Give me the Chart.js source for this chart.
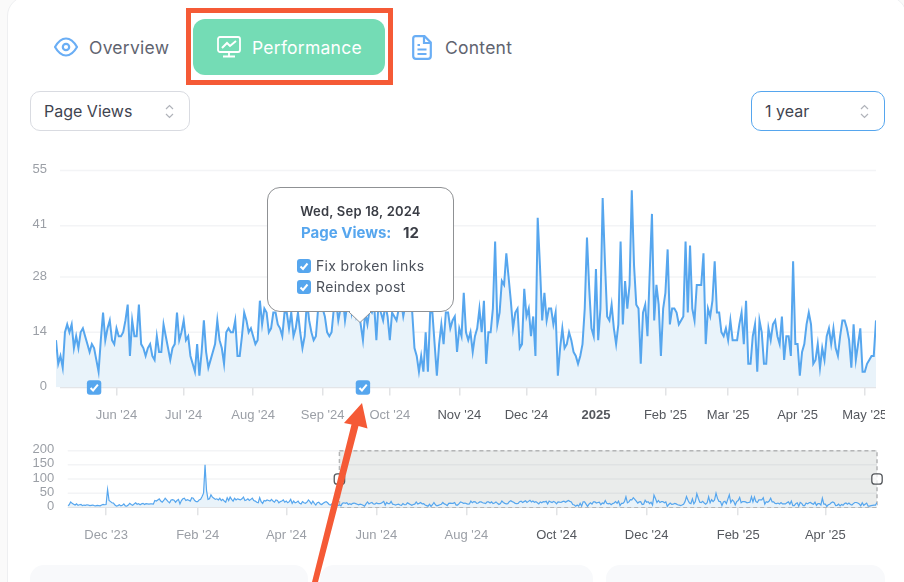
<!DOCTYPE html>
<html>
<head>
<meta charset="utf-8">
<title>Performance</title>
<script src="https://cdn.jsdelivr.net/npm/chart.js@4"></script>
<style>
  html, body { margin: 0; padding: 0; width: 904px; height: 582px; overflow: hidden; background: #fafafa; font-family: Inter, sans-serif; }
  .abs { position: absolute; }
  #card { left: 7px; top: -4px; width: 900px; height: 620px; background: #fff; border: 1px solid #eeeff1; border-radius: 20px; box-sizing: border-box; }
  .tab { font-size: 17.5px; letter-spacing: .25px; color: #5f6470; line-height: 22px; white-space: nowrap; }
  #perfBox { left: 186px; top: 8px; width: 207px; height: 77px; border: 5px solid #f55a36; box-sizing: border-box; }
  #perfBtn { left: 193px; top: 19px; width: 192px; height: 56px; background: #74dcb5; border-radius: 12px; }
  .select { top: 91px; height: 40px; box-sizing: border-box; border-radius: 10px; background: #fff; font-size: 16px; line-height: 38px; color: #3f4450; padding-left: 13px; }
  .bottomCard { top: 565px; height: 30px; background: #f8f9fb; border-radius: 14px; }
  canvas { position: absolute; display: block; }
  #tooltip { left: 267px; top: 187px; width: 187px; height: 125px; background: #fff; border: 1px solid #8f9194; border-radius: 13px; box-sizing: border-box; }
  .tipText { white-space: nowrap; color: #3f4450; }
  .tipCheck { width: 14px; height: 14px; background: #56a6ee; border-radius: 3px; }
</style>
</head>
<body>
<div id="card" class="abs"></div>

<svg class="abs" style="left:54px;top:37px" width="24" height="20" viewBox="0 0 24 20" fill="none" stroke="#6aaef5" stroke-width="2.2">
  <path d="M1 10 C5 3 9 1.5 12 1.5 C15 1.5 19 3 23 10 C19 17 15 18.5 12 18.5 C9 18.5 5 17 1 10 Z"/>
  <circle cx="12" cy="10" r="3.2"/>
</svg>
<div class="abs tab" style="left:89px;top:37px">Overview</div>

<div id="perfBox" class="abs"></div>
<div id="perfBtn" class="abs"></div>
<svg class="abs" style="left:217px;top:36px" width="24" height="22" viewBox="0 0 24 22" fill="none" stroke="#fff" stroke-width="1.8">
  <rect x="1" y="1" width="22" height="15" rx="2"/>
  <path d="M12 16 V20 M6 20.5 H18"/>
  <path d="M5 12 L10 7 L13 10 L19 5" stroke-width="2"/>
</svg>
<div class="abs tab" style="left:252px;top:37px;color:#fff">Performance</div>

<svg class="abs" style="left:412px;top:35px" width="20" height="25" viewBox="0 0 20 25" fill="none" stroke="#6aaef5" stroke-width="2.2">
  <path d="M3.5 1.2 H12.5 L18.8 7.5 V21 Q18.8 23.8 16 23.8 H4 Q1.2 23.8 1.2 21 V3.5 Q1.2 1.2 3.5 1.2 Z"/>
  <path d="M12 1.5 V8 H18.5 M5.5 10 H8 M5.5 14.5 H14.5 M5.5 19 H14.5"/>
</svg>
<div class="abs tab" style="left:445px;top:37px">Content</div>

<div class="abs select" style="left:30px;width:160px;border:1px solid #d9dbe1">Page Views</div>
<svg class="abs" style="left:165px;top:104px" width="9" height="15" viewBox="0 0 9 15" fill="none" stroke="#b0b3ba" stroke-width="1.2"><path d="M1 5 L4.5 1.5 L8 5 M1 10 L4.5 13.5 L8 10"/></svg>
<div class="abs select" style="left:751px;width:134px;border:1px solid #56a6ee">1 year</div>
<svg class="abs" style="left:860px;top:104px" width="9" height="15" viewBox="0 0 9 15" fill="none" stroke="#b0b3ba" stroke-width="1.2"><path d="M1 5 L4.5 1.5 L8 5 M1 10 L4.5 13.5 L8 10"/></svg>

<canvas id="mainChart" style="left:0;top:150px"></canvas>
<canvas id="overviewChart" style="left:0;top:430px"></canvas>

<div class="abs bottomCard" style="left:30px;width:278px"></div>
<div class="abs bottomCard" style="left:320px;width:273px"></div>
<div class="abs bottomCard" style="left:606px;width:279px"></div>

<div id="tooltip" class="abs"></div>
<svg class="abs" style="left:347px;top:310px" width="26" height="14" viewBox="0 0 26 14" fill="#fff" stroke="#8f9194"><path d="M2 2 L13 12.5 L24 2" /><path d="M3 1 H23" stroke="#fff" stroke-width="3"/></svg>
<div class="abs tipText" style="left:267px;width:187px;top:203px;text-align:center;font-size:13px;font-weight:600;letter-spacing:.2px;line-height:16px;color:#3a3d45">Wed, Sep 18, 2024</div>
<div class="abs tipText" style="left:301px;top:224px;font-size:15px;font-weight:700;line-height:18px;color:#56a6ee">Page Views:</div>
<div class="abs tipText" style="left:403px;top:224px;font-size:15px;font-weight:700;line-height:18px;color:#3a3d45">12</div>
<div class="abs tipCheck" style="left:297px;top:259px"></div>
<svg class="abs" style="left:297px;top:259px" width="14" height="14" fill="none" stroke="#fff" stroke-width="2"><path d="M3.5 7.5 L6 10 L10.5 4.5"/></svg>
<div class="abs tipText" style="left:316px;top:257px;font-size:14px;letter-spacing:.33px;line-height:18px;color:#4b505a">Fix broken links</div>
<div class="abs tipCheck" style="left:297px;top:280px"></div>
<svg class="abs" style="left:297px;top:280px" width="14" height="14" fill="none" stroke="#fff" stroke-width="2"><path d="M3.5 7.5 L6 10 L10.5 4.5"/></svg>
<div class="abs tipText" style="left:316px;top:278px;font-size:14px;letter-spacing:.33px;line-height:18px;color:#4b505a">Reindex post</div>

<svg class="abs" style="left:0;top:0;pointer-events:none" width="904" height="582" fill="#f55a36" stroke="none">
  <path d="M362 403 L367.5 428.5 L358.5 426 L318 582 L312 582 L351.5 424.5 L344 423 Z"/>
</svg>

<script>
// daily page views, May 5 '24 to May 6 '25
const viewsMay24 = [12,6,8,5,14,16,14,16,10,13,10,14,15,13,11,9,11,10,7,4,12,19,12,15,17,12,11];
const viewsJun24 = [15,13,13,14,17,21,8,17,13,13,21,11,10,8,10,11,8,7,13,9,9,16,13,10,7,10,11,19,12,14];
const viewsJul24 = [17,12,13,8,6,4,11,3,9,17,9,5,7,9,11,17,12,10,6,14,15,14,14,17,8,8,13,19,17,14,15];
const viewsAug24 = [13,11,12,22,16,20,19,14,15,19,19,16,15,13,19,19,15,19,13,15,19,14,10,13,22,17,14,12,13,20,23];
const viewsSep24 = [20,18,14,13,14,20,22,17,20,23,17,21,25,19,22,18,20,16,12,19,16,20,19,21,12,22,19,17,21,18];
const viewsOct24 = [12,19,18,17,20,22,18,21,24,21,19,10,8,4,8,4,14,4,19,19,11,3,11,16,11,19,19,15,17,18,9];
const viewsNov24 = [15,13,24,14,12,14,9,13,15,20,14,22,6,14,14,20,37,16,19,27,26,34,28,22,15,19,20,10,11,25];
const viewsDec24 = [18,20,13,18,8,43,31,17,24,17,20,20,16,19,3,10,15,10,11,14,12,9,8,6,8,11,20,38,25,15,13];
const viewsJan25 = [30,12,20,48,32,18,17,21,15,11,16,37,16,27,20,26,50,31,21,20,6,19,21,13,29,44,17,26,21,8,20];
const viewsFeb25 = [24,35,16,20,20,19,16,17,18,37,19,36,20,17,26,26,26,34,11,20,18,22,32,19,19,14,13,15];
const viewsMar25 = [12,17,12,12,12,16,19,11,22,6,6,13,16,4,17,14,6,6,15,12,16,17,13,11,18,7,13,13,8,32,11];
const viewsApr25 = [11,3,9,11,16,19,16,6,7,11,5,10,7,13,15,11,15,10,8,13,17,17,15,12,5,16,7,11,15,4];
const viewsMay25 = [4,6,7,8,8,17];

// the months before the selected range, only shown in the overview
const viewsNov23 = [5,9,19,14,11,8,12,7,9,10,6,8,7,9,8,6,7,8,6,5,7,6,5,8,10,9];
const viewsDec23 = [10,63,24,20,16,15,8,4,6,9,5,7,12,5,4,8,14,10,7,12,16,11,13,9,12,14,10,13,12,11,12];
const viewsJan24 = [12,11,24,22,26,30,22,18,24,32,26,20,16,26,27,25,18,24,28,12,24,30,32,24,27,25,22,34,32,24,20];
const viewsFeb24 = [20,26,28,38,50,150,60,28,30,44,36,32,28,30,26,32,24,28,22,18,34,24,36,28,22,32,26,30,28];
const viewsMar24 = [26,30,36,24,26,30,24,28,32,24,22,18,16,34,20,14,24,22,26,24,22,28,22,18,26,24,16,20,22,26,18];
const viewsApr24 = [22,16,20,28,14,22,16,18,22,14,12,20,16,14,18,26,20,12,22,14,8,16,18,12,10,14,18,20,16,10];
const viewsEarlyMay24 = [8,12,14,4];

const pageViews = [].concat(viewsMay24, viewsJun24, viewsJul24, viewsAug24, viewsSep24, viewsOct24,
  viewsNov24, viewsDec24, viewsJan25, viewsFeb25, viewsMar25, viewsApr25, viewsMay25);
const earlyViews = [].concat(viewsNov23, viewsDec23, viewsJan24, viewsFeb24, viewsMar24, viewsApr24, viewsEarlyMay24);
const allViews = earlyViews.concat(pageViews);

const mainYTicks = [0, 14, 28, 41, 55];
const mainXTicks = [27, 57, 88, 119, 149, 180, 210, 241, 272, 300, 331, 361];
const mainXLabels = ["Jun '24", "Jul '24", "Aug '24", "Sep '24", "Oct '24", "Nov '24", "Dec '24", "2025", "Feb '25", "Mar '25", "Apr '25", "May '25"];
const noteDays = [17, 137];

const overviewYTicks = [0, 50, 100, 150, 200];
const overviewXTicks = [26, 88, 148, 209, 270, 331, 392, 454, 513];
const overviewXLabels = ["Dec '23", "Feb '24", "Apr '24", "Jun '24", "Aug '24", "Oct '24", "Dec '24", "Feb '25", "Apr '25"];
const brushStart = 184;

const lineColor = '#56a6ee';
const fillColor = '#e9f3fa';
const gridColor = '#f3f4f6';
const axisColor = '#e2e3e5';
const mutedText = '#9b9fa6';
const darkText = '#55585e';
const axisFont = { family: 'Liberation Sans', size: 13 };

// grid lines start a few px right of the plot area in the reference
const insetGrid = {
    id: 'insetGrid',
    beforeDatasetsDraw(chart, args, opts) {
        const { ctx, chartArea, scales } = chart;
        ctx.save();
        ctx.lineWidth = 1.5;
        scales.y.ticks.forEach(t => {
            const y = scales.y.getPixelForValue(t.value);
            ctx.strokeStyle = t.value === 0 ? axisColor : gridColor;
            ctx.beginPath();
            ctx.moveTo(chartArea.left + opts.inset, y);
            ctx.lineTo(chartArea.right, y);
            ctx.stroke();
        });
        ctx.restore();
    }
};

const noteMarkers = {
    id: 'noteMarkers',
    afterDraw(chart) {
        if (chart.canvas.id !== 'mainChart') return;
        const { ctx, scales } = chart;
        const y = scales.y.getPixelForValue(0);
        noteDays.forEach(day => {
            const x = scales.x.getPixelForValue(day);
            ctx.save();
            ctx.fillStyle = lineColor;
            ctx.beginPath();
            ctx.roundRect(x - 7.2, y - 7.2, 14.4, 14.4, 3);
            ctx.fill();
            ctx.strokeStyle = '#fff';
            ctx.lineWidth = 2;
            ctx.beginPath();
            ctx.moveTo(x - 3.5, y + 0.5);
            ctx.lineTo(x - 1, y + 3);
            ctx.lineTo(x + 3.8, y - 2.8);
            ctx.stroke();
            ctx.restore();
        });
    }
};

// shaded selection sits under the line, handles on top
const brush = {
    id: 'brush',
    beforeDatasetsDraw(chart) {
        if (chart.canvas.id !== 'overviewChart') return;
        const { ctx, chartArea, scales } = chart;
        const left = scales.x.getPixelForValue(brushStart);
        const right = scales.x.getPixelForValue(allViews.length - 1);
        ctx.save();
        ctx.fillStyle = 'rgba(70, 85, 75, 0.115)';
        ctx.fillRect(left, chartArea.top, right - left, chartArea.height);
        ctx.strokeStyle = '#b4b5b6';
        ctx.lineWidth = 1.5;
        ctx.setLineDash([4, 3]);
        ctx.strokeRect(left, chartArea.top, right - left, chartArea.height);
        ctx.restore();
    },
    afterDraw(chart) {
        if (chart.canvas.id !== 'overviewChart') return;
        const { ctx, scales } = chart;
        const mid = scales.y.getPixelForValue(100);
        ctx.save();
        ctx.fillStyle = 'rgba(255, 255, 255, 0.75)';
        ctx.strokeStyle = '#55585c';
        ctx.lineWidth = 1.3;
        [brushStart, allViews.length - 1].forEach(day => {
            const x = scales.x.getPixelForValue(day);
            ctx.beginPath();
            ctx.roundRect(x - 5.2, mid - 5.2, 10.4, 10.4, 3);
            ctx.fill();
            ctx.stroke();
        });
        ctx.restore();
    }
};

function setTicks(values) {
    return scale => {
        scale.ticks = values.map(v => ({ value: v }));
    };
}

function buildChart(id, size, o) {
    const canvas = document.getElementById(id);
    canvas.style.width = size.w + 'px';
    canvas.style.height = size.h + 'px';
    canvas.width = size.w;
    canvas.height = size.h;
    return new Chart(canvas, {
        type: 'line',
        data: {
            datasets: [{
                data: o.values.map((v, i) => ({ x: i, y: v })),
                borderColor: lineColor,
                borderWidth: o.lineWidth,
                backgroundColor: fillColor,
                fill: 'origin',
                pointRadius: 0,
                tension: 0
            }]
        },
        options: {
            responsive: false,
            animation: false,
            events: [],
            layout: { padding: { top: o.top, right: o.right, left: 0, bottom: 0 } },
            plugins: { legend: { display: false }, tooltip: { enabled: false }, insetGrid: { inset: o.inset } },
            scales: {
                x: {
                    type: 'linear',
                    min: 0,
                    max: o.values.length - 1,
                    afterBuildTicks: setTicks(o.xTicks),
                    afterFit(scale) {
                        scale.height = o.xHeight;
                        scale.paddingLeft = 0;
                        scale.paddingRight = 0;
                    },
                    border: { display: false },
                    grid: { drawOnChartArea: false, color: axisColor, tickLength: 8, lineWidth: 1.5 },
                    ticks: {
                        autoSkip: false,
                        maxRotation: 0,
                        padding: 12,
                        font: ctx => Object.assign({}, axisFont, { weight: o.xLabels[ctx.index] === '2025' ? 'bold' : 'normal' }),
                        color: ctx => ctx.index < o.firstDark ? mutedText : darkText,
                        callback: (v, i) => o.xLabels[i]
                    }
                },
                y: {
                    min: 0,
                    max: o.yMax,
                    afterBuildTicks: setTicks(o.yTicks),
                    afterFit(scale) {
                        scale.width = o.yWidth;
                        scale.paddingTop = 0;
                        scale.paddingBottom = 0;
                    },
                    border: { display: false },
                    grid: { display: false, drawTicks: false },
                    ticks: { autoSkip: false, font: axisFont, color: mutedText, padding: o.yPad, labelOffset: -1, callback: v => v }
                }
            }
        },
        plugins: [insetGrid, noteMarkers, brush]
    });
}

buildChart('mainChart', { w: 885, h: 280 }, {
    values: pageViews,
    lineWidth: 2,
    top: 20.5,
    right: 9,
    inset: 4,
    xHeight: 42.5,
    yWidth: 56,
    yPad: 9,
    yMax: 55,
    yTicks: mainYTicks,
    xTicks: mainXTicks,
    xLabels: mainXLabels,
    firstDark: 5
});

buildChart('overviewChart', { w: 885, h: 115 }, {
    values: allViews,
    lineWidth: 1.2,
    top: 20.7,
    right: 8,
    inset: 0,
    xHeight: 37.7,
    yWidth: 67.7,
    yPad: 13.5,
    yMax: 200,
    yTicks: overviewYTicks,
    xTicks: overviewXTicks,
    xLabels: overviewXLabels,
    firstDark: 5
});
</script>
</body>
</html>
